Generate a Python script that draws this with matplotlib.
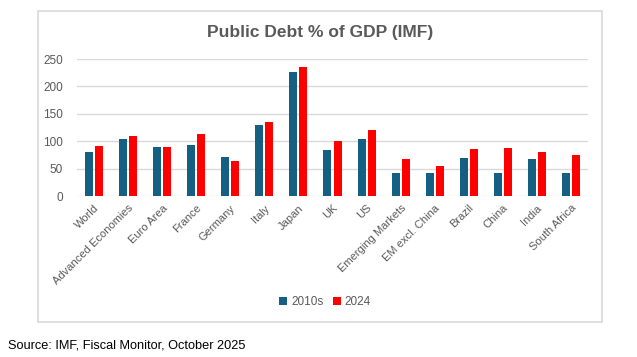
import numpy as np
import matplotlib as mpl
import matplotlib.pyplot as plt
from matplotlib.patches import Rectangle

mpl.rcParams['font.family'] = ['Liberation Sans', 'DejaVu Sans']

categories = ['World', 'Advanced Economies', 'Euro Area', 'France', 'Germany', 'Italy',
              'Japan', 'UK', 'US', 'Emerging Markets', 'EM excl. China', 'Brazil',
              'China', 'India', 'South Africa']
debt_2010s = [80, 104, 90, 93, 71, 130, 226, 84, 104, 42, 42, 69, 42, 67, 42]
debt_2024 = [91, 110, 90, 113, 64, 135, 235, 100, 120, 67, 55, 86, 88, 80, 75]
series_names = ['2010s', '2024']
yticks = [0, 50, 100, 150, 200, 250]

blue = '#156082'
red = '#FF0000'
grey_txt = '#595959'
grid_col = '#D9D9D9'

W, H = 637, 357
fig = plt.figure(figsize=(W / 100, H / 100), dpi=100)

# chart border (like excel chart area)
fig.patches.append(Rectangle((38 / W, 1 - 322 / H), (602 - 38) / W, (322 - 10.5) / H,
                             transform=fig.transFigure, fill=False,
                             edgecolor=grid_col, lw=1.2))

ax = fig.add_axes([77 / W, 1 - 196 / H, (588 - 77) / W, (196 - 59) / H])
x = np.arange(len(categories))
w = 0.235
ax.bar(x - 0.148, debt_2010s, w, color=blue, label=series_names[0], zorder=2)
ax.bar(x + 0.148, debt_2024, w, color=red, label=series_names[1], zorder=2)

ax.set_xlim(-0.5, len(categories) - 0.5)
ax.set_ylim(0, 250)
ax.set_yticks(yticks)
ax.yaxis.grid(True, color=grid_col, lw=1, zorder=0)
for s in ax.spines.values():
    s.set_visible(False)
ax.tick_params(axis='both', length=0, colors=grey_txt, labelsize=8.5)
ax.tick_params(axis='y', pad=10)
ax.set_xticks(x)
ax.set_xticklabels(categories, rotation=45, ha='right', rotation_mode='anchor', fontsize=8)
ax.tick_params(axis='x', pad=5)

fig.text(320 / W, 1 - 33 / H, 'Public Debt % of GDP (IMF)', ha='center', va='center',
         fontsize=12.5, fontweight='bold', color=grey_txt)

fig.legend(loc='center', bbox_to_anchor=(325 / W, 1 - 302 / H), ncol=2, frameon=False,
           fontsize=8.5, handlelength=0.7, handleheight=0.7, handletextpad=0.3,
           columnspacing=0.8, labelcolor=grey_txt)

fig.text(8 / W, 1 - 345 / H, 'Source: IMF, Fiscal Monitor, October 2025', ha='left',
         va='center', fontsize=9.2, color='black')

fig.savefig('out.png', dpi=100)
